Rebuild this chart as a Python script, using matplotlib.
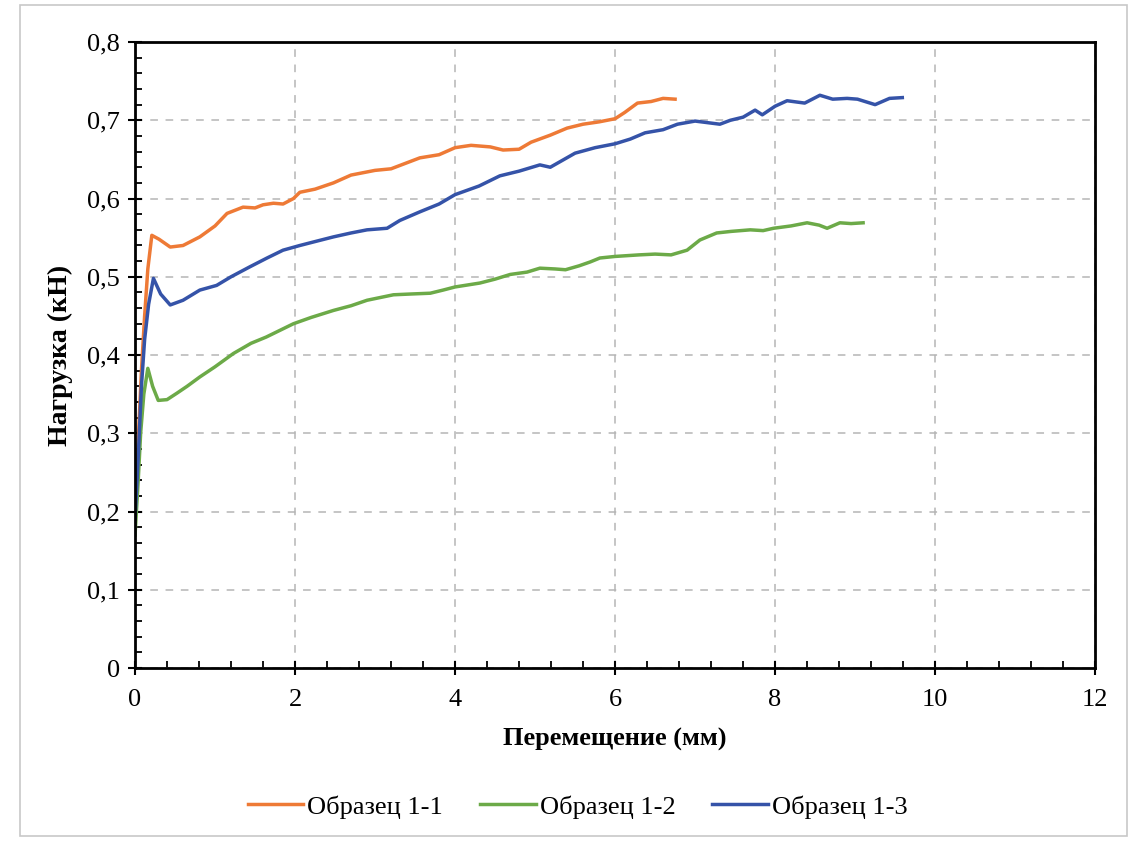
import matplotlib.pyplot as plt
from matplotlib.ticker import MultipleLocator, FuncFormatter
from matplotlib.patches import Rectangle

# Data (displacement, mm -> load, kN)
x_11 = [0.0, 0.04, 0.08, 0.12, 0.16, 0.21, 0.3, 0.44, 0.6, 0.81, 1.0, 1.15, 1.35, 1.5, 1.6, 1.73,
        1.85, 1.98, 2.06, 2.25, 2.48, 2.7, 3.0, 3.2, 3.56, 3.8, 4.0, 4.2, 4.44, 4.6, 4.8, 4.95,
        5.19, 5.4, 5.6, 5.8, 6.0, 6.12, 6.28, 6.45, 6.6, 6.75]
y_11 = [0.19, 0.29, 0.38, 0.45, 0.51, 0.553, 0.548, 0.538, 0.54, 0.551, 0.565, 0.581, 0.589, 0.588,
        0.592, 0.594, 0.593, 0.6, 0.608, 0.612, 0.62, 0.63, 0.636, 0.638, 0.652, 0.656, 0.665,
        0.668, 0.666, 0.662, 0.663, 0.672, 0.681, 0.69, 0.695, 0.698, 0.702, 0.71, 0.722, 0.724,
        0.728, 0.727]

x_12 = [0.0, 0.04, 0.07, 0.11, 0.16, 0.22, 0.29, 0.4, 0.52, 0.65, 0.81, 1.0, 1.23, 1.45, 1.64,
        1.98, 2.2, 2.48, 2.7, 2.9, 3.23, 3.45, 3.69, 3.85, 4.0, 4.31, 4.5, 4.69, 4.9, 5.06, 5.25,
        5.38, 5.55, 5.69, 5.81, 6.0, 6.3, 6.5, 6.7, 6.9, 7.06, 7.27, 7.45, 7.69, 7.85, 7.98, 8.2,
        8.4, 8.55, 8.65, 8.81, 8.95, 9.1]
y_12 = [0.17, 0.24, 0.30, 0.35, 0.383, 0.36, 0.342, 0.343, 0.351, 0.36, 0.372, 0.385, 0.402,
        0.415, 0.423, 0.44, 0.448, 0.457, 0.463, 0.47, 0.477, 0.478, 0.479, 0.483, 0.487, 0.492,
        0.497, 0.503, 0.506, 0.511, 0.51, 0.509, 0.514, 0.519, 0.524, 0.526, 0.528, 0.529, 0.528,
        0.534, 0.547, 0.556, 0.558, 0.56, 0.559, 0.562, 0.565, 0.569, 0.566, 0.562, 0.569, 0.568,
        0.569]

x_13 = [0.0, 0.04, 0.08, 0.12, 0.17, 0.23, 0.32, 0.44, 0.6, 0.81, 1.02, 1.2, 1.44, 1.65, 1.85,
        2.06, 2.25, 2.48, 2.7, 2.9, 3.15, 3.31, 3.56, 3.8, 4.0, 4.3, 4.56, 4.8, 5.06, 5.19, 5.5,
        5.75, 6.0, 6.19, 6.375, 6.6, 6.78, 7.0, 7.31, 7.44, 7.6, 7.75, 7.84, 8.0, 8.15, 8.37,
        8.56, 8.72, 8.9, 9.03, 9.25, 9.43, 9.59]
y_13 = [0.19, 0.27, 0.36, 0.42, 0.465, 0.498, 0.478, 0.464, 0.47, 0.483, 0.489, 0.5, 0.513,
        0.524, 0.534, 0.54, 0.545, 0.551, 0.556, 0.56, 0.562, 0.572, 0.583, 0.593, 0.605, 0.616,
        0.629, 0.635, 0.643, 0.64, 0.658, 0.665, 0.67, 0.676, 0.684, 0.688, 0.695, 0.699, 0.695,
        0.70, 0.704, 0.713, 0.707, 0.718, 0.725, 0.722, 0.732, 0.727, 0.728, 0.727, 0.72, 0.728,
        0.729]

series = [
    ('Образец 1-1', x_11, y_11, '#EE7A36'),
    ('Образец 1-2', x_12, y_12, '#6CAA48'),
    ('Образец 1-3', x_13, y_13, '#3553A8'),
]

plt.rcParams['font.family'] = ['Liberation Serif', 'DejaVu Serif']

fig = plt.figure(figsize=(11.29, 8.41), dpi=100)
ax = fig.add_axes([0.1196, 0.2057, 0.8504, 0.7443])

# light outer frame of the chart area
fig.patches.append(Rectangle((0.018, 0.006), 0.98, 0.988, transform=fig.transFigure,
                             fill=False, edgecolor='#c8c8c8', linewidth=1.2))

for label, xs, ys, color in series:
    ax.plot(xs, ys, color=color, linewidth=2.5, label=label)

ax.set_xlim(0, 12)
ax.set_ylim(0, 0.8)
ax.xaxis.set_major_locator(MultipleLocator(2))
ax.xaxis.set_minor_locator(MultipleLocator(0.4))
ax.yaxis.set_major_locator(MultipleLocator(0.1))
ax.yaxis.set_minor_locator(MultipleLocator(0.02))
ax.yaxis.set_major_formatter(FuncFormatter(
    lambda v, p: '0' if abs(v) < 1e-9 else f'{v:.1f}'.replace('.', ',')))

ax.tick_params(which='major', direction='inout', length=10, width=1.5,
               labelsize=19, pad=6, top=False, right=False)
ax.tick_params(axis='x', which='major', pad=10)
ax.tick_params(which='minor', direction='in', length=5, width=1.3, top=False, right=False)

for s in ax.spines.values():
    s.set_linewidth(2)
    s.set_color('black')

ax.grid(which='major', color='#b5b5b5', linestyle=(0, (5, 5)), linewidth=1.1)
ax.set_axisbelow(True)

ax.set_xlabel('Перемещение (мм)', fontsize=19, fontweight='bold', labelpad=12)
ax.set_ylabel('Нагрузка (кН)', fontsize=20, fontweight='bold', labelpad=10)

ax.legend(loc='upper center', bbox_to_anchor=(0.461, -0.165), ncol=3, frameon=False,
          fontsize=19, handlelength=2.1, handletextpad=0.15, columnspacing=1.4)

fig.savefig('out.png', dpi=100)
